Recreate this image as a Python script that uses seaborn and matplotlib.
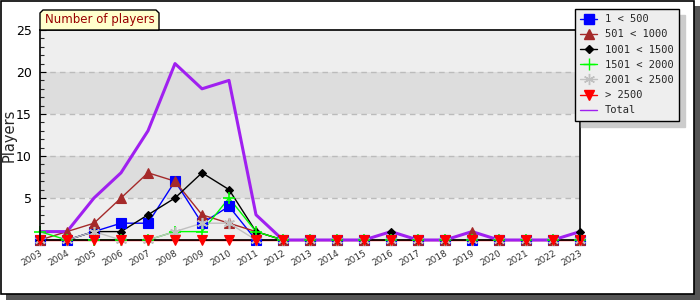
import matplotlib
matplotlib.use("Agg")
import matplotlib.pyplot as plt
import seaborn as sns
import numpy as np
import pandas as pd
from matplotlib.patches import Rectangle, Polygon
from matplotlib.ticker import MultipleLocator, FixedLocator

years = list(range(2003, 2024))
s_1_500 =     [0, 0, 1, 2, 2, 7, 2, 4, 0, 0, 0, 0, 0, 0, 0, 0, 0, 0, 0, 0, 0]
s_501_1000 =  [0, 1, 2, 5, 8, 7, 3, 2, 1, 0, 0, 0, 0, 0, 0, 0, 1, 0, 0, 0, 0]
s_1001_1500 = [0, 0, 1, 1, 3, 5, 8, 6, 1, 0, 0, 0, 0, 1, 0, 0, 0, 0, 0, 0, 1]
s_1501_2000 = [1, 0, 0, 0, 0, 1, 1, 5, 1, 0, 0, 0, 0, 0, 0, 0, 0, 0, 0, 0, 0]
s_2001_2500 = [0, 0, 1, 0, 0, 1, 2, 2, 0, 0, 0, 0, 0, 0, 0, 0, 0, 0, 0, 0, 0]
s_gt_2500 =   [0] * 21
s_total =     [1, 1, 5, 8, 13, 21, 18, 19, 3, 0, 0, 0, 0, 1, 0, 0, 1, 0, 0, 0, 1]

labels = ["1 < 500", "501 < 1000", "1001 < 1500", "1501 < 2000",
          "2001 < 2500", "> 2500", "Total"]
title = "Number of players"
ylabel = "Players"

sns.set_theme(style="white")
plt.rcParams['font.family'] = ['DejaVu Sans']

W, H = 700, 300
fig = plt.figure(figsize=(7, 3), dpi=100)
fig.patch.set_facecolor("white")

# outer frame with shadow
fig.patches.append(Rectangle((6 / W, 0), (W - 6) / W, (H - 6) / H,
                             transform=fig.transFigure, facecolor="#555555",
                             edgecolor="none", zorder=0))
fig.patches.append(Rectangle((1 / W, 6 / H), (W - 7) / W, (H - 7) / H,
                             transform=fig.transFigure, facecolor="white",
                             edgecolor="black", linewidth=1.2, zorder=1))

ax = fig.add_axes([40 / W, 60 / H, 540 / W, 210 / H])
ax.set_zorder(2)
ax.set_facecolor("#EEEEEE")

# bands
for lo, hi in [(5, 10), (15, 20)]:
    ax.axhspan(lo, hi, color="#DDDDDD", zorder=0, linewidth=0)
for v in [5, 10, 15, 20]:
    ax.axhline(v, color="#BBBBBB", linestyle=(0, (4, 3)), linewidth=1, zorder=0.5)

specs = [
    (s_1_500, "#0000FF", "s", 6.5),
    (s_501_1000, "#A52A2A", "^", 7),
    (s_1001_1500, "#000000", "D", 4.5),
    (s_1501_2000, "#00FF00", "+", 9),
    (s_2001_2500, "#C0C0C0", (6, 2, 0), 8),
    (s_gt_2500, "#FF0000", "v", 7),
]
handles = []
# lines
for (vals, col, mk, ms) in specs:
    sns.lineplot(x=years, y=vals, ax=ax, color=col, linewidth=1,
                 legend=False, zorder=2, clip_on=False)
# total line above series lines
sns.lineplot(x=years, y=s_total, ax=ax, color="#A020F0", linewidth=2.2,
             legend=False, zorder=2.8, clip_on=False)
# markers on top
for (vals, col, mk, ms) in specs:
    sns.lineplot(x=years, y=vals, ax=ax, color=col, linestyle="", marker=mk,
                 markersize=ms, markeredgecolor=col,
                 markeredgewidth=1.2 if mk in ("+", (6, 2, 0)) else 0.8,
                 legend=False, zorder=3, clip_on=False)
    handles.append(plt.Line2D([], [], color=col, linewidth=1, marker=mk,
                              markersize=ms, markeredgecolor=col))
handles.append(plt.Line2D([], [], color="#A020F0", linewidth=1))

ax.set_xlim(2003, 2023)
ax.set_ylim(0, 25)
ax.xaxis.set_major_locator(FixedLocator(years))
ax.set_xticklabels([str(y) for y in years], rotation=30, ha="right",
                   rotation_mode="anchor", fontsize=6.5, color="#333333")
ax.yaxis.set_major_locator(FixedLocator([5, 10, 15, 20, 25]))
ax.yaxis.set_minor_locator(MultipleLocator(1))
ax.set_yticklabels(["5", "10", "15", "20", "25"], fontsize=9)
ax.tick_params(axis="y", which="major", direction="in", length=4, width=0.8,
               left=True, pad=6, colors="black")
ax.tick_params(axis="y", which="minor", direction="in", length=3, width=0.8,
               left=True)
ax.tick_params(axis="x", which="major", direction="inout", length=6, width=0.8,
               bottom=True, pad=3)
for sp in ax.spines.values():
    sp.set_color("black")
    sp.set_linewidth(1.2)
    sp.set_visible(True)
    sp.set_zorder(4)
ax.spines["bottom"].set_zorder(2.7)
ax.set_ylabel(ylabel, fontsize=10.5)
ax.yaxis.set_label_coords(-23 / 540, 0.5)
ax.set_xlabel("")

# title tab
x0, x1, y0, y1 = 40, 159, 30, 10
c = 3
pts = [(x0, y0), (x0, y1 + c), (x0 + c, y1), (x1 - c, y1), (x1, y1 + c), (x1, y0)]
pts = [(px / W, 1 - py / H) for px, py in pts]
fig.patches.append(Polygon(pts, closed=True, transform=fig.transFigure,
                           facecolor="#FFFFCC", edgecolor="black", linewidth=1,
                           zorder=3))
fig.text(100 / W, 1 - 20 / H, title, ha="center", va="center",
         fontsize=8.5, color="#990000", zorder=4)

leg = fig.legend(handles, labels, loc="upper left",
                 bbox_to_anchor=(575 / W, 1 - 9 / H), bbox_transform=fig.transFigure,
                 prop={"family": "DejaVu Sans Mono", "size": 7.5},
                 frameon=True, fancybox=False,
                 shadow={"ox": 4.3, "oy": -4.3, "color": "#CCCCCC", "alpha": 1},
                 facecolor="#EEEEEE", edgecolor="black", framealpha=1,
                 handlelength=1.6, handletextpad=0.8, labelspacing=0.5,
                 borderpad=0.5, borderaxespad=0)
leg.get_frame().set_linewidth(1)
leg.set_zorder(5)

fig.savefig("out.png", dpi=100)
